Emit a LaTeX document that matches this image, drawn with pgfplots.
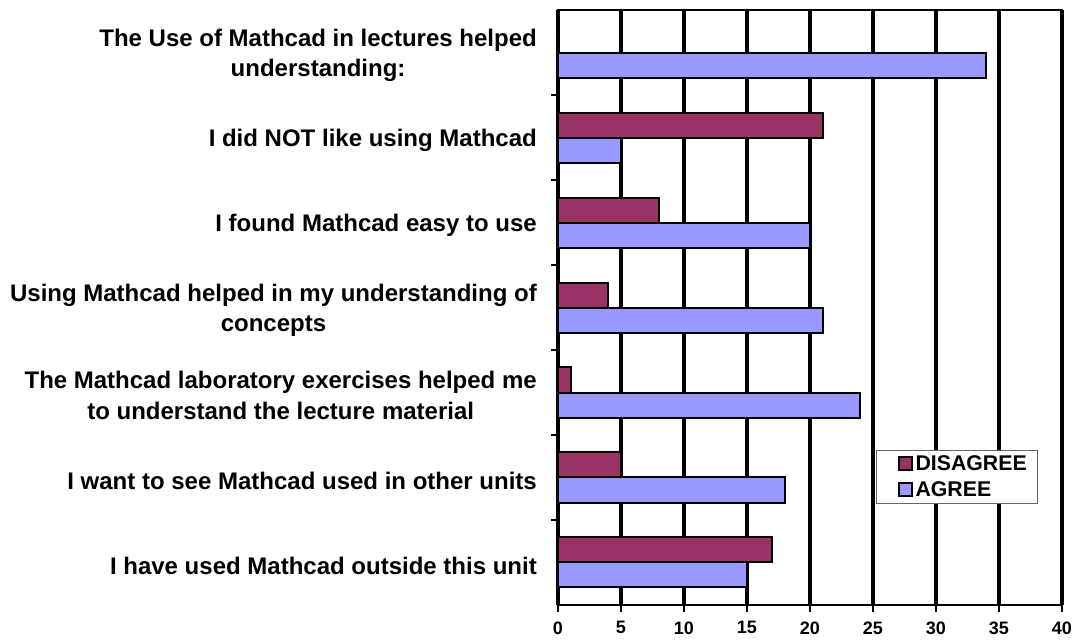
\documentclass[border=0pt]{standalone}
\usepackage{fontspec}
\setmainfont{Liberation Sans}
\usepackage{pgfplots}
\pgfplotsset{compat=1.18}
\definecolor{dis}{HTML}{993366}
\definecolor{agr}{HTML}{9999FF}
\begin{document}
\begin{tikzpicture}
\path[use as bounding box] (-558pt,-38pt) rectangle (522pt,605pt);
\begin{axis}[
  scale only axis, width=504pt, height=595pt,
  at={(0pt,0pt)}, anchor=south west,
  xbar, bar width=25pt,
  xmin=0, xmax=40, ymin=-0.5, ymax=6.5,
  xtick={0,5,...,40},
  xtick pos=bottom, ytick pos=left,
  tick align=outside,
  major tick length=7pt,
  xmajorgrids, grid style={black, line width=3.5pt},
  axis line style={black, line width=2.5pt},
  every tick/.style={black, line width=2pt},
  ytick={0,...,6},
  y tick style={draw=none},
  yticklabels={
    {I have used Mathcad outside this unit},
    {I want to see Mathcad used in other units},
    {The Mathcad laboratory exercises helped me\\to understand the lecture material},
    {Using Mathcad helped in my understanding of\\concepts},
    {I found Mathcad easy to use},
    {I did NOT like using Mathcad},
    {The Use of Mathcad in lectures helped\\understanding:}},
  yticklabel style={font=\fontsize{24}{30.5}\selectfont\bfseries, align=center, inner sep=0pt, xshift=-14pt, yshift=-3pt},
  extra y ticks={0.5,1.5,...,5.5},
  extra y tick labels={},
  extra y tick style={y tick style={draw=black, line width=2pt}},
  /pgf/number format/assume math mode=true,
  xticklabel style={font=\fontsize{18}{20}\selectfont\bfseries, yshift=-6pt},
  legend style={at={(rel axis cs:0.631,0.2613)}, anchor=north west, draw=black!60, line width=1pt,
    font=\fontsize{21.3}{24}\selectfont\bfseries, inner xsep=8pt, inner ysep=5pt, row sep=7pt,
    nodes={inner xsep=3pt, inner ysep=1pt}},
  legend cell align=left,
]
\addplot[fill=dis, draw=black, line width=2pt, bar shift=12.5pt,
  legend image code/.code={\path (0pt,0pt); \draw[fill=dis, draw=black, line width=2pt] (13pt,-6pt) rectangle (26pt,7pt);}]
  coordinates {(17,0) (5,1) (1,2) (4,3) (8,4) (21,5) (0,6)};
\addplot[fill=agr, draw=black, line width=2pt, bar shift=-12.5pt,
  legend image code/.code={\path (0pt,0pt); \draw[fill=agr, draw=black, line width=2pt] (13pt,-6pt) rectangle (26pt,7pt);}]
  coordinates {(15,0) (18,1) (24,2) (21,3) (20,4) (5,5) (34,6)};
\legend{DISAGREE, AGREE}
\end{axis}
\end{tikzpicture}
\end{document}
